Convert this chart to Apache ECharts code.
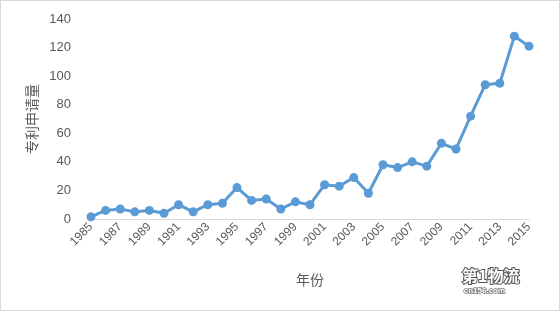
<!DOCTYPE html>
<html><head><meta charset="utf-8">
<script src="https://cdn.jsdelivr.net/npm/echarts@6/dist/echarts.min.js"></script>
<style>html,body{margin:0;padding:0;background:#fff}#c{width:560px;height:311px;box-sizing:border-box;border:1px solid #d9d9d9}</style>
</head><body><div id="c"></div>
<script>
const years = ['1985','1986','1987','1988','1989','1990','1991','1992','1993','1994','1995','1996','1997','1998','1999','2000','2001','2002','2003','2004','2005','2006','2007','2008','2009','2010','2011','2012','2013','2014','2015'];
const patents = [1.5,6,7,5,6,4,10,5,10,11,22,13,14,7,12,10,24,23,29,18,38,36,40,37,53,49,72,94,95,128,121];
const yTicks = [0,20,40,60,80,100,120,140];
const chart = echarts.init(document.getElementById('c'));
chart.setOption({
  animation:false,
  grid:{left:90,right:30,top:18,bottom:91},
  xAxis:{type:'category',data:years,boundaryGap:false,
    name:'年份',nameLocation:'middle',nameGap:54,
    nameTextStyle:{color:'#595959',fontSize:14,fontFamily:'Noto Sans CJK SC'},
    axisLine:{lineStyle:{color:'#d9d9d9',width:1}},axisTick:{show:false},
    axisLabel:{rotate:45,interval:1,color:'#595959',fontSize:12,fontFamily:'Liberation Sans',margin:6}},
  yAxis:{type:'value',min:0,max:140,interval:20,
    name:'专利申请量',nameLocation:'middle',nameGap:52,
    nameTextStyle:{color:'#595959',fontSize:14,fontFamily:'Noto Sans CJK SC'},
    axisLine:{show:false},axisTick:{show:false},splitLine:{show:false},
    axisLabel:{color:'#595959',fontSize:13,fontFamily:'Liberation Sans',margin:20,
      formatter:v=>yTicks.includes(v)?String(v):''}},
  series:[{type:'line',data:patents,symbol:'circle',symbolSize:9,
    lineStyle:{color:'#5b9bd5',width:3},itemStyle:{color:'#5b9bd5'}}],
  graphic:[
    {type:'text',left:460,top:266,style:{text:'第1物流',fill:'#fff',stroke:'#555',lineWidth:2,fontSize:16,fontWeight:'bold',fontFamily:'Noto Sans CJK SC'}},
    {type:'text',left:462,top:285,style:{text:'cn156.com',fill:'#fff',stroke:'#777',lineWidth:1.5,fontSize:8,fontWeight:'bold',fontFamily:'Liberation Sans'}}
  ]
});
</script></body></html>
